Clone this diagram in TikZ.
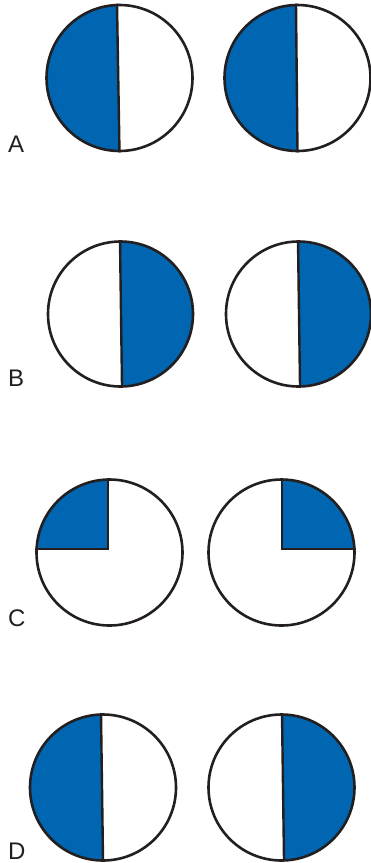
\documentclass[tikz,border=0pt]{standalone}
\usepackage{fontspec}
\setmainfont{Liberation Sans}
\definecolor{cPart}{HTML}{0066B1}
\definecolor{cLine}{HTML}{231F20}

\begin{document}
\begin{tikzpicture}[
  x=1pt, y=-1pt,
  disc/.style={circle, draw=cLine, line width=2.6pt, minimum size=146pt, inner sep=0pt},
  part/.style={fill=cPart},
  split/.style={draw=cLine, line width=2.4pt},
  tag/.style={anchor=base west, inner sep=0pt, text=cLine, font=\fontsize{24}{28}\selectfont},
]
\useasboundingbox (0,0) rectangle (370,863);

% ---- row A: left halves shaded ----
\begin{scope}
  \clip (119.5,78) circle (73pt);
  \fill[part] (117,5) -- (119.5,151) -- (40,151) -- (40,5) -- cycle;
\end{scope}
\begin{scope}
  \clip (297.5,78) circle (73pt);
  \fill[part] (296,5) -- (297.5,151) -- (220,151) -- (220,5) -- cycle;
\end{scope}
\node[disc] (a1) at (119.5,78) {};
\node[disc] (a2) at (297.5,78) {};
\draw[split] (a1.north) ++(-2.5,0) coordinate (a1t) -- (a1.south);
\draw[split] (a2.north) ++(-1.5,0) coordinate (a2t) -- (a2.south);
\node[tag] (la) at (8,152) {A};

% ---- row B: right halves shaded ----
\begin{scope}
  \clip (120.5,314) circle (72.5pt);
  \fill[part] (120,241) -- (122,387) -- (200,387) -- (200,241) -- cycle;
\end{scope}
\begin{scope}
  \clip (298.5,314) circle (72.5pt);
  \fill[part] (298,241) -- (300,387) -- (380,387) -- (380,241) -- cycle;
\end{scope}
\node[disc, minimum size=145pt] (b1) at (120.5,314) {};
\node[disc, minimum size=145pt] (b2) at (298.5,314) {};
\draw[split] (b1.north) ++(-0.5,0) -- ++(2,145);
\draw[split] (b2.north) ++(-0.5,0) -- ++(2,145);
\node[tag] (lb) at (8,386) {B};

% ---- row C: one quarter shaded ----
\begin{scope}
  \clip (109.5,552.5) circle (73pt);
  \fill[part] (108,549) -- (108,470) -- (30,470) -- (30,549) -- cycle;
\end{scope}
\begin{scope}
  \clip (281.5,552.5) circle (73pt);
  \fill[part] (282,549) -- (282,470) -- (360,470) -- (360,549) -- cycle;
\end{scope}
\node[disc] (c1) at (109.5,552.5) {};
\node[disc] (c2) at (281.5,552.5) {};
\coordinate (c1m) at (108,549);
\coordinate (c2m) at (282,549);
\draw[split] (c1.west |- c1m) -- (c1m) -- (c1m |- c1.north);
\draw[split] (c2.east |- c2m) -- (c2m) -- (c2m |- c2.north);
\node[tag] (lc) at (8,626) {C};

% ---- row D: left half, then right half ----
\begin{scope}
  \clip (103,787.5) circle (73pt);
  \fill[part] (101,714) -- (103,861) -- (25,861) -- (25,714) -- cycle;
\end{scope}
\begin{scope}
  \clip (281.5,787.5) circle (73pt);
  \fill[part] (282,714) -- (284,861) -- (360,861) -- (360,714) -- cycle;
\end{scope}
\node[disc] (d1) at (103,787.5) {};
\node[disc] (d2) at (281.5,787.5) {};
\draw[split] (d1.north) ++(-2,0) -- ++(2,146);
\draw[split] (d2.north) ++(0.5,0) -- ++(2,146);
\node[tag] (ld) at (8,859) {D};
\end{tikzpicture}
\end{document}
